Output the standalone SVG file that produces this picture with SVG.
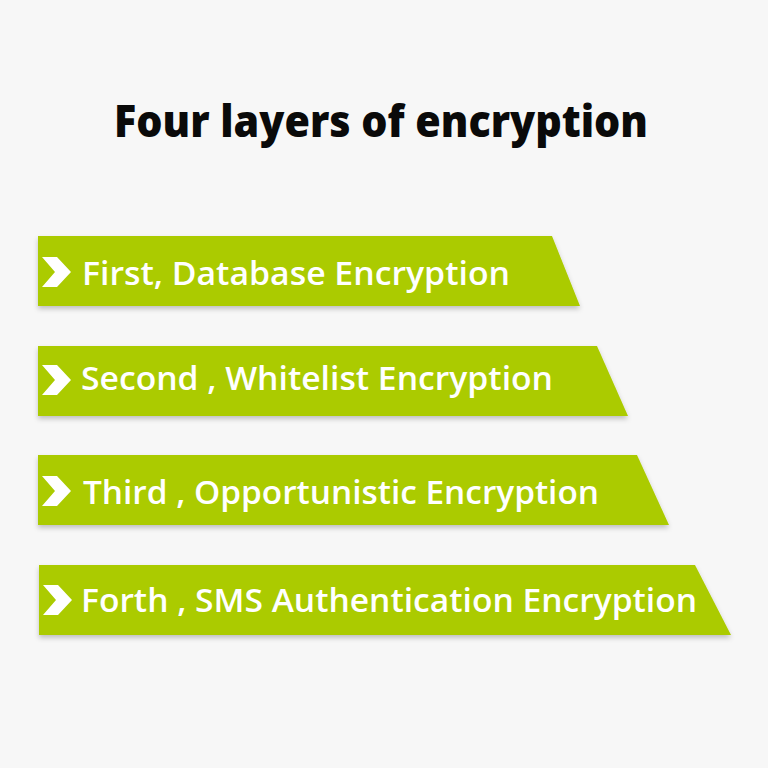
<svg xmlns="http://www.w3.org/2000/svg" width="768" height="768" viewBox="0 0 768 768">
  <defs>
    <filter id="sh" x="-5%" y="-20%" width="110%" height="150%">
      <feDropShadow dx="0" dy="3" stdDeviation="2.5" flood-color="#000" flood-opacity="0.22"/>
    </filter>
    <polygon id="chev" points="-14,-15 1,-15 15,0 1,15 -14,15 -1,0"/>
  </defs>
  <style>
    .band { fill: #abcb05; filter: url(#sh); }
    .lbl { font-family: "Open Sans", "Noto Sans", sans-serif; font-weight: 600; font-size: 32px; fill: #ffffff; }
    .ico { fill: #ffffff; }
    .title { font-family: "Open Sans", "Noto Sans", sans-serif; font-weight: 800; font-size: 45px; fill: #0a0a0a; }
  </style>
  <rect width="768" height="768" fill="#f7f7f7"/>
  <text class="title" x="114" y="137" textLength="534" lengthAdjust="spacingAndGlyphs">Four layers of encryption</text>
  <g id="layer1">
    <polygon class="band" points="38,236 552,236 580,306 38,306"/>
    <use href="#chev" class="ico" x="56" y="272"/>
    <text class="lbl" x="82" y="285" textLength="428" lengthAdjust="spacingAndGlyphs">First, Database Encryption</text>
  </g>
  <g id="layer2">
    <polygon class="band" points="38,346 597,346 628,416 38,416"/>
    <use href="#chev" class="ico" x="56" y="380"/>
    <text class="lbl" x="81" y="390" textLength="472" lengthAdjust="spacingAndGlyphs">Second , Whitelist Encryption</text>
  </g>
  <g id="layer3">
    <polygon class="band" points="38,455 637,455 669,525 38,525"/>
    <use href="#chev" class="ico" x="56" y="491"/>
    <text class="lbl" x="83" y="504" textLength="516" lengthAdjust="spacingAndGlyphs">Third , Opportunistic Encryption</text>
  </g>
  <g id="layer4">
    <polygon class="band" points="39,565 695,565 731,635 39,635"/>
    <use href="#chev" class="ico" x="57" y="600"/>
    <text class="lbl" x="81" y="612" textLength="616" lengthAdjust="spacingAndGlyphs">Forth , SMS Authentication Encryption</text>
  </g>
  <g id="connectors"/>
</svg>
